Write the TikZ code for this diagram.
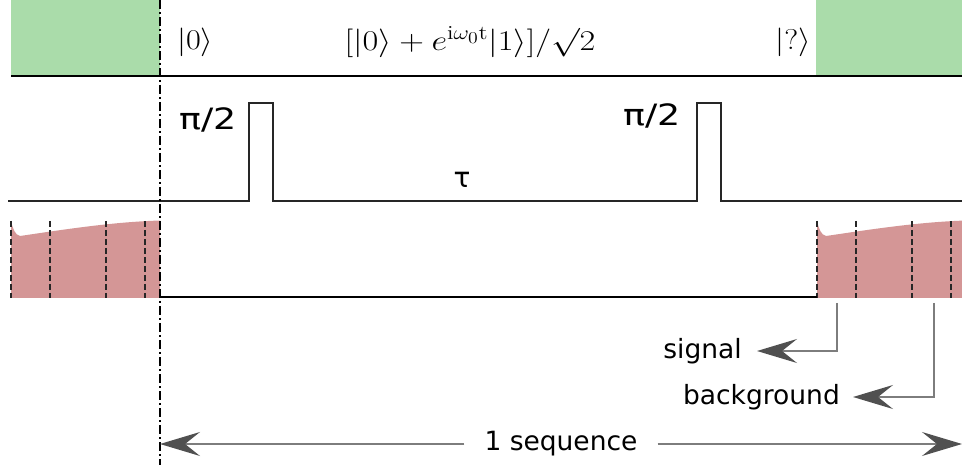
\documentclass[tikz,border=0pt]{standalone}
\usepackage{fontspec}
\newfontfamily\labfont{DejaVu Sans}
\usetikzlibrary{arrows.meta}
\definecolor{gfill}{RGB}{170,220,170}
\definecolor{rfill}{RGB}{212,150,150}
\definecolor{conngray}{RGB}{125,125,125}
\definecolor{tipgray}{RGB}{80,80,80}
\begin{document}
\begin{tikzpicture}[x=1pt,y=-1pt,
  thickline/.style={line width=2.4pt,black},
  pulseline/.style={line width=2.4pt,black!85},
  greenblock/.style={fill=gfill},
  redblock/.style={fill=rfill},
  gatedash/.style={line width=2.4pt,black!85,dash pattern=on 6pt off 3pt},
  dashdot/.style={line width=1.8pt,black,dash pattern=on 9pt off 3pt on 2pt off 3pt},
  lab/.style={font=\labfont\fontsize{26.5}{30}\selectfont,inner ysep=0pt},
  pilab/.style={font=\labfont\fontsize{28}{32}\selectfont,inner sep=0pt},
  state/.style={font=\fontsize{20.74}{25}\selectfont,inner sep=0pt},
  conn/.style={line width=1.8pt,conngray,-{Stealth[length=40pt,width=24pt,inset=15pt,fill=tipgray,color=tipgray]}},
]
\useasboundingbox (0,0) rectangle (962,465);
% green blocks
\fill[greenblock] (11,0) rectangle (160,76);
\fill[greenblock] (816,0) rectangle (962,76);
\draw[thickline] (11,76) -- (962,76);
% state labels
\node[state,anchor=west] (k0) at (177,42) {\scalebox{1.55}[1.38]{$|0\rangle$}};
\node[state] (sup) at (470,42) {\scalebox{1.65}[1.38]{$[|0\rangle + e^{\mathrm{i}\omega_0\mathrm{t}}|1\rangle]/\surd 2$}};
\node[state,anchor=east] (kq) at (811,42) {\scalebox{1.55}[1.38]{$|?\rangle$}};
% pulse line
\draw[pulseline] (8,201) -- (249,201) -- (249,103) -- (273,103) -- (273,201)
  -- (697,201) -- (697,103) -- (721,103) -- (721,201) -- (962,201);
\node[pilab] (p1) at (208,120) {\scalebox{1.3}[1.05]{π/2}};
\node[pilab] (p2) at (652,116) {\scalebox{1.3}[1.05]{π/2}};
\node[pilab] (tau) at (462,180) {τ};
% red readout blocks
\begin{scope}
\clip (0,0) rectangle (962,465);
\foreach \sx in {11,817}{
  \begin{scope}[xshift=\sx]
    \fill[redblock] (0,298) -- (0,221) .. controls (2,229) and (4,235) .. (9,236)
      .. controls (50,230) and (100,222) .. (149,220.5) -- (149,298) -- cycle;
    \foreach \dx in {0,39,95,134}{
      \draw[gatedash] (\dx,221) -- (\dx,298);
    }
  \end{scope}
}
\end{scope}
\draw[thickline] (160,297) -- (817,297);
% sequence boundary
\draw[dashdot] (160,0) -- (160,465);
% signal / background
\coordinate (sigsrc) at (837,303);
\coordinate (bgsrc) at (934,303);
\node[lab,anchor=east,inner xsep=15pt] (signal) at (757,351) {signal};
\node[lab,anchor=east,inner xsep=13pt] (background) at (853,397) {background};
\draw[conn] (sigsrc) |- (signal.east);
\draw[conn] (bgsrc) |- (background.east);
% 1 sequence
\coordinate (seqL) at (160,444);
\coordinate (seqR) at (962,444);
\node[lab,inner xsep=20pt] (seq) at (561,444) {1 sequence};
\draw[conn] (seq.west) -- (seqL);
\draw[conn] (seq.east) -- (seqR);
\end{tikzpicture}
\end{document}
